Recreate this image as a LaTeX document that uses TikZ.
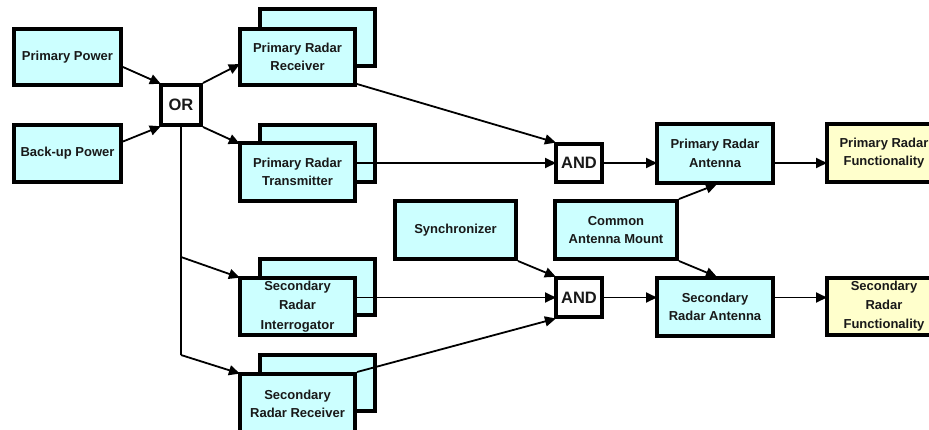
\documentclass[tikz,border=0pt]{standalone}
\usepackage{fontspec}
\setmainfont{Liberation Sans}
\usetikzlibrary{arrows.meta}
\definecolor{boxcyan}{HTML}{CCFFFF}
\definecolor{boxyellow}{HTML}{FFFFCC}

\begin{document}
\begin{tikzpicture}[x=1pt,y=-1pt,
  sz/.style 2 args={minimum width=#1pt, minimum height=#2pt},
  blk/.style={draw=black, line width=4pt, fill=boxcyan, align=center,
    inner sep=0pt, text=black!90,
    font=\fontsize{13}{18.5}\selectfont\bfseries},
  outbox/.style={blk, fill=boxyellow},
  gate/.style={draw=black, line width=4pt, fill=white, inner sep=0pt,
    text=black!90, font=\fontsize{16.5}{18}\selectfont\bfseries},
  arr/.style={line width=1.8pt, -{Triangle[length=11pt,width=10pt]},
    shorten >=-2pt},
  wire/.style={line width=1.8pt}
]
\useasboundingbox (0,0) rectangle (929,429);

% power sources and OR gate
\node[blk, sz={107}{56}] (pp) at (67.5,57) {Primary Power};
\node[blk, sz={107}{57}] (bp) at (67.5,153.5) {Back-up Power};
\node[gate, sz={40}{40}] (or) at (181,105) {OR};

% redundant (stacked) units: back copy first, then front copy
\node[blk, sz={115}{57}] (prrb) at (317.5,37.5) {};
\node[blk, sz={115}{56}] (prr) at (297.5,57) {Primary Radar\\Receiver};
\node[blk, sz={115}{57}] (prtb) at (317.5,153.5) {};
\node[blk, sz={115}{58}] (prt) at (297.5,172) {Primary Radar\\Transmitter};
\node[blk, sz={115}{56}] (srib) at (317.5,287) {};
\node[blk, sz={115}{57}, font=\fontsize{13}{19.5}\selectfont\bfseries]
  (sri) at (297.5,306.5) {Secondary\\Radar\\Interrogator};
\node[blk, sz={115}{56}] (srrb) at (317.5,383) {};
\node[blk, sz={115}{60}] (srr) at (297.5,404) {Secondary\\Radar Receiver};

% synchronizer, AND gates, antenna side
\node[blk, sz={121}{58}] (sync) at (455.5,230) {Synchronizer};
\node[blk, sz={122}{58}] (cam) at (616,230) {Common\\Antenna Mount};
\node[gate, sz={46}{38}] (and1) at (579,163) {AND};
\node[gate, sz={46}{39}] (and2) at (579,297.5) {AND};
\node[blk, sz={116}{59}] (pra) at (715,153.5) {Primary Radar\\Antenna};
\node[blk, sz={116}{58}] (sra) at (715,307) {Secondary\\Radar Antenna};
\node[outbox, sz={114}{58}] (prf) at (884,153) {Primary Radar\\Functionality};
\node[outbox, sz={114}{57}, font=\fontsize{13}{19}\selectfont\bfseries]
  (srf) at (884,306.5) {Secondary\\Radar\\Functionality};

% power feed
\draw[arr] ([yshift=-10pt]pp.east) -- (or.north west);
\draw[arr] ([yshift=12pt]bp.east) -- (or.south west);
\draw[arr] (or.north east) -- ([yshift=-8pt]prr.west);
\draw[arr] (or.south east) -- ([yshift=29pt]prt.west);

\coordinate (j1) at (181,257);
\coordinate (j2) at (181,355);
\draw[wire] (or.south) -- (j2);
\draw[arr] (j1) -- ([yshift=29.5pt]sri.west);
\draw[arr] (j2) -- ([yshift=31pt]srr.west);

% into the AND gates
\draw[arr] ([yshift=-27pt]prr.east) -- (and1.north west);
\draw[arr] (prt.east |- and1.west) -- (and1.west);
\draw[arr] (sync.south east) -- (and2.north west);
\draw[arr] (sri.east |- and2.west) -- (and2.west);
\draw[arr] (srr.north east) -- (and2.south west);

% antenna chain
\draw[arr] (and1.east) -- (and1.east -| pra.west);
\draw[arr] (pra.east |- and1.east) -- (prf.west |- and1.east);
\draw[arr] (and2.east) -- (and2.east -| sra.west);
\draw[arr] (sra.east |- and2.east) -- (srf.west |- and2.east);
\draw[arr] (cam.north east) -- (pra.south);
\draw[arr] (cam.south east) -- (sra.north);
\end{tikzpicture}
\end{document}
